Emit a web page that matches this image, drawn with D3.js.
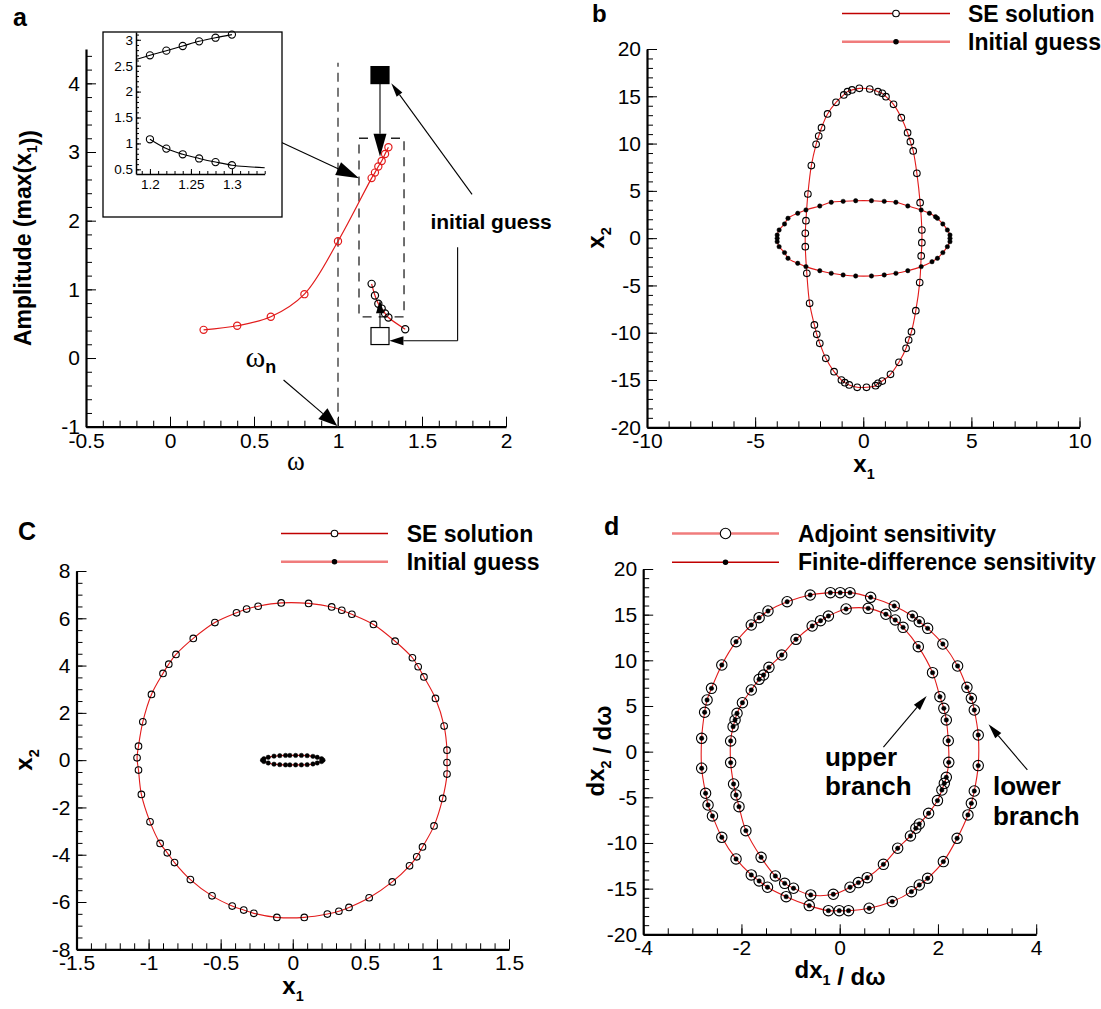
<!DOCTYPE html>
<html>
<head>
<meta charset="utf-8">
<script src="https://cdn.jsdelivr.net/npm/d3@7"></script>
<style>
    body { margin: 0; background: #fff; }
    svg { display: block; }
</style>
</head>
<body>
<div id="chart"></div>
<script>
// ---- panel a : amplitude vs frequency ----
var aOmega = [0.2, 0.4, 0.6, 0.8, 1.0, 1.2, 1.22, 1.24, 1.26, 1.28, 1.3];
var aUpperAmp = [0.41, 0.47, 0.60, 0.93, 1.70, 2.62, 2.70, 2.79, 2.87, 2.97, 3.07];
var aLowerOmega = [1.2, 1.22, 1.24, 1.26, 1.28, 1.3, 1.4];
var aLowerAmp = [1.08, 0.91, 0.79, 0.72, 0.65, 0.59, 0.42];
var aGuessOmega = [1.25, 1.25];
var aGuessAmp = [4.12, 0.32];      // filled square, open square

var insetOmega = [1.2, 1.22, 1.24, 1.26, 1.28, 1.3];
var insetUpperAmp = [2.70, 2.79, 2.88, 2.97, 3.04, 3.10];
var insetLowerAmp = [1.08, 0.90, 0.79, 0.71, 0.64, 0.58];
var insetUpperLead = [[1.183, 2.62]];
var insetLowerTail = [[1.32, 0.55], [1.34, 0.53]];

// ---- panel b ----
var bSolX1 = [-0.90,-0.73,-0.52,-0.18,0.30,0.68,0.88,1.05,1.40,1.76,2.05,2.18,2.31,2.48,2.63,2.71,2.71,2.68,2.61,2.43,2.23,2.10,1.98,1.65,1.26,0.88,0.68,0.57,0.15,-0.28,-0.65,-0.85,-1.01,-1.35,-1.73,-2.01,-2.15,-2.26,-2.48,-2.61,-2.68,-2.68,-2.65,-2.56,-2.40,-2.18,-2.06,-1.93,-1.65,-1.26];
var bSolX2 = [15.14,15.49,15.67,15.84,15.77,15.49,15.31,14.96,14.15,12.74,11.15,10.20,9.22,6.85,3.75,0.86,-0.48,-1.88,-4.70,-7.67,-9.89,-10.77,-11.65,-13.13,-14.40,-15.11,-15.35,-15.60,-15.77,-15.77,-15.52,-15.28,-15.00,-14.12,-12.71,-11.12,-10.17,-9.18,-6.89,-3.72,-0.90,0.51,1.85,4.67,7.67,9.92,10.80,11.68,13.13,14.36];
var bGuessX1 = [-0.35,0.38,0.97,1.51,2.06,2.68,3.06,3.34,3.43,3.68,3.89,4.01,4.01,4.01,3.89,3.68,3.43,3.18,2.68,2.06,1.51,0.97,0.38,-0.35,-0.93,-1.48,-2.01,-2.65,-3.03,-3.48,-3.64,-3.89,-3.98,-3.98,-3.98,-3.89,-3.64,-3.48,-3.03,-2.65,-2.01,-1.48,-0.93];
var bGuessX2 = [3.96,3.96,3.89,3.79,3.40,2.98,2.63,2.27,2.10,1.50,0.86,0.33,-0.02,-0.37,-0.90,-1.53,-2.13,-2.49,-3.01,-3.44,-3.72,-3.89,-4.00,-4.00,-3.89,-3.72,-3.44,-3.01,-2.66,-2.13,-1.53,-0.90,-0.37,-0.02,0.33,0.86,1.50,2.10,2.63,2.98,3.40,3.79,3.89];

// ---- panel c ----
var cSolX1 = [-0.08,0.11,0.27,0.34,0.41,0.56,0.71,0.83,0.87,0.91,0.99,1.05,1.07,1.07,1.07,1.04,0.98,0.90,0.86,0.81,0.69,0.53,0.39,0.32,0.24,0.08,-0.11,-0.27,-0.34,-0.42,-0.56,-0.71,-0.82,-0.87,-0.92,-0.99,-1.05,-1.07,-1.08,-1.07,-1.04,-0.98,-0.90,-0.86,-0.81,-0.69,-0.54,-0.39,-0.32,-0.24];
var cSolX2 = [6.65,6.63,6.48,6.34,6.17,5.74,5.03,4.33,3.95,3.52,2.61,1.44,0.42,-0.10,-0.59,-1.62,-2.78,-3.67,-4.09,-4.47,-5.15,-5.82,-6.23,-6.39,-6.51,-6.65,-6.65,-6.48,-6.34,-6.17,-5.74,-5.05,-4.33,-3.92,-3.52,-2.61,-1.45,-0.42,0.10,0.59,1.62,2.78,3.67,4.06,4.47,5.15,5.82,6.23,6.39,6.51];
var cGuessX1 = [-0.13,-0.09,-0.05,-0.02,0.02,0.06,0.10,0.14,0.17,0.20,0.21,0.20,0.17,0.14,0.10,0.06,0.02,-0.02,-0.05,-0.09,-0.13,-0.17,-0.20,-0.21,-0.20,-0.17];
var cGuessX2 = [0.17,0.19,0.20,0.20,0.20,0.20,0.19,0.16,0.12,0.06,0.00,-0.06,-0.12,-0.16,-0.19,-0.20,-0.20,-0.20,-0.20,-0.19,-0.17,-0.12,-0.06,0.00,0.06,0.12];

// ---- panel d ----
var dLowerX1 = [-0.19,0.01,0.21,0.63,1.11,1.48,1.62,1.79,2.10,2.40,2.59,2.68,2.74,2.82,2.82,2.74,2.68,2.61,2.39,2.11,1.79,1.62,1.46,1.07,0.60,0.18,-0.01,-0.23,-0.62,-1.09,-1.47,-1.64,-1.80,-2.11,-2.40,-2.59,-2.68,-2.73,-2.81,-2.81,-2.75,-2.70,-2.61,-2.40,-2.11,-1.80,-1.64,-1.46,-1.07,-0.60];
var dLowerX2 = [17.41,17.41,17.41,16.90,15.95,14.85,14.23,13.50,11.79,9.38,7.04,5.84,4.56,1.82,-1.53,-4.31,-5.66,-6.93,-9.49,-12.04,-13.87,-14.60,-15.33,-16.42,-17.15,-17.41,-17.41,-17.41,-16.86,-15.88,-14.85,-14.16,-13.50,-11.75,-9.38,-7.04,-5.84,-4.56,-1.82,1.46,4.31,5.66,6.93,9.49,12.04,13.87,14.67,15.40,16.42,17.15];
var dUpperX1 = [0.13,0.58,0.94,1.13,1.29,1.60,1.89,2.04,2.12,2.17,2.21,2.22,2.17,2.13,2.08,1.99,1.81,1.62,1.55,1.44,1.18,0.89,0.56,0.38,0.21,-0.13,-0.59,-0.94,-1.12,-1.31,-1.60,-1.91,-2.05,-2.11,-2.16,-2.22,-2.22,-2.17,-2.13,-2.09,-1.98,-1.80,-1.64,-1.55,-1.44,-1.18,-0.89,-0.56,-0.39,-0.23];
var dUpperX2 = [15.62,15.69,15.04,14.42,13.61,11.50,8.65,6.02,4.74,3.47,1.20,-1.17,-2.81,-3.47,-4.20,-5.36,-6.75,-7.92,-8.39,-9.23,-10.58,-12.34,-13.80,-14.34,-14.85,-15.62,-15.69,-14.96,-14.42,-13.61,-11.57,-8.65,-6.02,-4.74,-3.54,-1.20,1.17,2.74,3.47,4.20,5.36,6.75,7.92,8.39,9.23,10.58,12.30,13.76,14.34,14.85];

// tick labels
var aXTicks = [-0.5, 0, 0.5, 1, 1.5, 2];
var aYTicks = [-1, 0, 1, 2, 3, 4];
var insetXTicks = [1.2, 1.25, 1.3];
var insetYTicks = [0.5, 1, 1.5, 2, 2.5, 3];
var bXTicks = [-10, -5, 0, 5, 10];
var bYTicks = [-20, -15, -10, -5, 0, 5, 10, 15, 20];
var cXTicks = [-1.5, -1, -0.5, 0, 0.5, 1, 1.5];
var cYTicks = [-8, -6, -4, -2, 0, 2, 4, 6, 8];
var dXTicks = [-4, -2, 0, 2, 4];
var dYTicks = [-20, -15, -10, -5, 0, 5, 10, 15, 20];

var width = 1101;
var height = 1009;
var FONT = "'Liberation Sans', Arial, Helvetica, sans-serif";
var SERIF = "'Liberation Serif', 'Times New Roman', serif";
var RED = "#e21b1b";
var DARKRED = "#c00000";
var PINK = "#f07c7c";

var svg = d3.select("#chart").append("svg").attr("width", width).attr("height", height);

function zip(a, b) {
    return a.map(function (v, i) { return [v, b[i]]; });
}

function minor(lo, hi, step) {
    return d3.range(Math.round((hi - lo) / step) + 1).map(function (i) {
        return +(lo + i * step).toFixed(4);
    });
}

function makePanel(p) {
    var g = svg.append("g");
    var x = d3.scaleLinear().domain(p.xDomain).range(p.xRange);
    var y = d3.scaleLinear().domain(p.yDomain).range(p.yRange);
    var fmt = function (d) { return String(d); };
    var fs = p.fontSize || 21;
    var majorLen = p.majorLen || 10, minorLen = p.minorLen || 6;

    // minor ticks
    g.append("g").attr("transform", "translate(0," + p.yRange[0] + ")")
        .call(d3.axisBottom(x).tickValues(p.xMinor).tickSize(-minorLen).tickFormat(""))
        .call(function (s) { s.select(".domain").remove(); });
    g.append("g").attr("transform", "translate(" + p.xRange[0] + ",0)")
        .call(d3.axisLeft(y).tickValues(p.yMinor).tickSize(-minorLen).tickFormat(""))
        .call(function (s) { s.select(".domain").remove(); });

    // major ticks + labels
    var xa = g.append("g").attr("transform", "translate(0," + p.yRange[0] + ")")
        .call(d3.axisBottom(x).tickValues(p.xTicks).tickSize(-majorLen).tickSizeOuter(0)
            .tickPadding(p.padX || 6).tickFormat(fmt));
    var ya = g.append("g").attr("transform", "translate(" + p.xRange[0] + ",0)")
        .call(d3.axisLeft(y).tickValues(p.yTicks).tickSize(-majorLen).tickSizeOuter(0)
            .tickPadding(p.padY || 6).tickFormat(fmt));
    [xa, ya].forEach(function (a) {
        a.attr("font-family", FONT).attr("font-size", fs);
        a.select(".domain").attr("stroke-width", p.axisWidth || 2.2);
        a.selectAll(".tick line").attr("stroke-width", 1);
    });
    g.selectAll(".tick line").attr("stroke", "#000");
    return {g: g, x: x, y: y};
}

function arrow(g, x1, y1, x2, y2, len, hw, sw) {
    var dx = x2 - x1, dy = y2 - y1, L = Math.sqrt(dx * dx + dy * dy);
    var ux = dx / L, uy = dy / L;
    var bx = x2 - ux * len, by = y2 - uy * len;
    g.append("line").attr("x1", x1).attr("y1", y1).attr("x2", bx).attr("y2", by)
        .attr("stroke", "#000").attr("stroke-width", sw || 1.1);
    g.append("path")
        .attr("d", "M" + x2 + "," + y2 + "L" + (bx - uy * hw) + "," + (by + ux * hw) +
            "L" + (bx + uy * hw) + "," + (by - ux * hw) + "Z")
        .attr("fill", "#000");
}

function label(g, txt, x, y, size, weight, anchor, family) {
    return g.append("text").attr("x", x).attr("y", y)
        .attr("font-family", family || FONT).attr("font-size", size)
        .attr("font-weight", weight || "normal").attr("text-anchor", anchor || "start")
        .text(txt);
}

// subscript title like x1, dx2 / dω
function subTitle(g, parts, x, y, size, rotate) {
    var t = g.append("text").attr("font-family", FONT).attr("font-size", size)
        .attr("font-weight", "bold").attr("text-anchor", "middle");
    if (rotate) t.attr("transform", "translate(" + x + "," + y + ") rotate(-90)");
    else t.attr("transform", "translate(" + x + "," + y + ")");
    parts.forEach(function (pt) {
        if (pt.sub) {
            t.append("tspan").attr("font-size", size * 0.6).attr("dy", size * 0.28).text(pt.sub);
            t.append("tspan").attr("dy", -size * 0.28).text("");
        } else {
            t.append("tspan").text(pt.t);
        }
    });
    return t;
}

function closedLine(g, sc, pts, color, w) {
    g.append("path").datum(pts)
        .attr("d", d3.line().x(function (d) { return sc.x(d[0]); }).y(function (d) { return sc.y(d[1]); })
            .curve(d3.curveCatmullRomClosed.alpha(0.5)))
        .attr("fill", "none").attr("stroke", color).attr("stroke-width", w || 1.1);
}

function markers(g, sc, pts, r, fill, stroke, sw) {
    g.append("g").selectAll("circle").data(pts).enter().append("circle")
        .attr("cx", function (d) { return sc.x(d[0]); })
        .attr("cy", function (d) { return sc.y(d[1]); })
        .attr("r", r).attr("fill", fill).attr("stroke", stroke).attr("stroke-width", sw || 1);
}

function legend(g, rows, x0, x1, xm, xt, size) {
    rows.forEach(function (r) {
        g.append("line").attr("x1", x0).attr("x2", x1).attr("y1", r.y).attr("y2", r.y)
            .attr("stroke", r.color).attr("stroke-width", r.w);
        g.append("circle").attr("cx", xm).attr("cy", r.y).attr("r", r.r)
            .attr("fill", r.fill).attr("stroke", "#000").attr("stroke-width", 1.1);
        label(g, r.text, xt, r.y + 8, size, "bold");
    });
}

// =================== panel a ===================
var pa = makePanel({
    xDomain: [-0.5, 2], xRange: [86, 506],
    yDomain: [-1, 4.5], yRange: [426.7, 49],
    xTicks: aXTicks, yTicks: aYTicks,
    xMinor: minor(-0.5, 2, 0.1), yMinor: minor(-1, 4.4, 0.2)
});
label(pa.g, "a", 13, 26, 25, "bold");
subTitle(pa.g, [{t: "Amplitude (max(x"}, {sub: "1"}, {t: "))"}], 31, 238, 23, true);
label(pa.g, "ω", 296, 470, 27, "normal", "middle", SERIF);

// natural frequency line
pa.g.append("line").attr("x1", pa.x(1)).attr("x2", pa.x(1)).attr("y1", pa.y(-1)).attr("y2", pa.y(4.3))
    .attr("stroke", "#333").attr("stroke-width", 1.3).attr("stroke-dasharray", "9,6");

// dashed zoom box
pa.g.append("rect").attr("x", pa.x(1.125)).attr("y", pa.y(3.2))
    .attr("width", pa.x(1.393) - pa.x(1.125)).attr("height", pa.y(0.6) - pa.y(3.2))
    .attr("fill", "none").attr("stroke", "#222").attr("stroke-width", 1.3).attr("stroke-dasharray", "9,7");

var aLine = d3.line().x(function (d) { return pa.x(d[0]); }).y(function (d) { return pa.y(d[1]); })
    .curve(d3.curveCatmullRom);
var aUpper = zip(aOmega, aUpperAmp);
var aLower = zip(aLowerOmega, aLowerAmp);
pa.g.append("path").datum(aUpper).attr("d", aLine).attr("fill", "none").attr("stroke", RED).attr("stroke-width", 1.2);
pa.g.append("path").datum(aLower).attr("d", aLine).attr("fill", "none").attr("stroke", RED).attr("stroke-width", 1.2);
markers(pa.g, pa, aUpper, 3.6, "none", RED, 1.2);
markers(pa.g, pa, aLower, 3.6, "none", "#000", 1.2);

// initial guesses (squares)
var aGuess = zip(aGuessOmega, aGuessAmp);
pa.g.selectAll(".guess").data(aGuess).enter().append("rect")
    .attr("x", function (d) { return pa.x(d[0]) - 9; })
    .attr("y", function (d) { return pa.y(d[1]) - 8.5; })
    .attr("width", 18).attr("height", 17)
    .attr("fill", function (d, i) { return i === 0 ? "#000" : "#fff"; })
    .attr("stroke", "#000").attr("stroke-width", 1.2);

// annotation arrows (data coordinates)
function aArrow(f, t, len, hw) {
    arrow(pa.g, pa.x(f[0]), pa.y(f[1]), pa.x(t[0]), pa.y(t[1]), len, hw);
}
aArrow([1.25, 3.99], [1.25, 2.93], 23, 6.5);
aArrow([1.25, 0.44], [1.25, 0.84], 13, 4);
aArrow([0.623, 3.185], [1.125, 2.617], 23, 7);
aArrow([1.798, 2.384], [1.317, 4.0], 14, 3.5);
aArrow([0.676, -0.32], [0.996, -0.99], 19, 7);
pa.g.append("line").attr("x1", pa.x(1.712)).attr("x2", pa.x(1.712)).attr("y1", pa.y(1.613)).attr("y2", pa.y(0.252))
    .attr("stroke", "#000").attr("stroke-width", 1.1);
aArrow([1.712, 0.252], [1.306, 0.252], 14, 4.5);

label(pa.g, "initial guess", pa.x(1.55), pa.y(1.88), 21, "bold");
var wn = pa.g.append("text").attr("x", pa.x(0.45)).attr("y", pa.y(-0.13))
    .attr("font-family", SERIF).attr("font-size", 30).text("ω");
wn.append("tspan").attr("font-family", FONT).attr("font-weight", "bold").attr("font-size", 18).attr("dy", 6).text("n");

// inset
pa.g.append("rect").attr("x", 103).attr("y", 32).attr("width", 179).attr("height", 185)
    .attr("fill", "#fff").attr("stroke", "#000").attr("stroke-width", 1.3);
var pi = makePanel({
    xDomain: [1.183, 1.34], xRange: [136, 264.7],
    yDomain: [0.41, 3.15], yRange: [174, 32],
    xTicks: insetXTicks, yTicks: insetYTicks,
    xMinor: minor(1.19, 1.34, 0.01), yMinor: minor(0.5, 3.1, 0.1),
    fontSize: 13.5, majorLen: 5, minorLen: 3, padX: 5, padY: 3, axisWidth: 1.5
});
var iLine = d3.line().x(function (d) { return pi.x(d[0]); }).y(function (d) { return pi.y(d[1]); })
    .curve(d3.curveCatmullRom);
var iUpper = zip(insetOmega, insetUpperAmp);
var iLower = zip(insetOmega, insetLowerAmp);
pi.g.append("path").datum(insetUpperLead.concat(iUpper)).attr("d", iLine)
    .attr("fill", "none").attr("stroke", "#000").attr("stroke-width", 1.1);
pi.g.append("path").datum(iLower.concat(insetLowerTail)).attr("d", iLine)
    .attr("fill", "none").attr("stroke", "#000").attr("stroke-width", 1.1);
markers(pi.g, pi, iUpper, 3.6, "none", "#000", 1.1);
markers(pi.g, pi, iLower, 3.6, "none", "#000", 1.1);

// =================== panel b ===================
var pb = makePanel({
    xDomain: [-10, 10], xRange: [647, 1079.5],
    yDomain: [-20, 20], yRange: [427.3, 49],
    xTicks: bXTicks, yTicks: bYTicks,
    xMinor: minor(-10, 10, 1), yMinor: minor(-20, 20, 1)
});
label(pb.g, "b", 592, 22, 24, "bold");
subTitle(pb.g, [{t: "x"}, {sub: "2"}], 604, 238, 24, true);
subTitle(pb.g, [{t: "x"}, {sub: "1"}], 864, 472, 24, false);
var bSol = zip(bSolX1, bSolX2), bGuess = zip(bGuessX1, bGuessX2);
closedLine(pb.g, pb, bSol, RED);
closedLine(pb.g, pb, bGuess, RED);
markers(pb.g, pb, bSol, 3.3, "none", "#000", 1.1);
markers(pb.g, pb, bGuess, 2.2, "#000", "#000", 0.5);
legend(pb.g, [
    {y: 13.5, color: DARKRED, w: 1.4, r: 3.3, fill: "#fff", text: "SE solution"},
    {y: 41.7, color: PINK, w: 2.6, r: 2.2, fill: "#000", text: "Initial guess"}
], 842, 950, 896, 968, 23);

// =================== panel c ===================
var pc = makePanel({
    xDomain: [-1.5, 1.5], xRange: [76.5, 509],
    yDomain: [-8, 8], yRange: [949.3, 571],
    xTicks: cXTicks, yTicks: cYTicks,
    xMinor: minor(-1.5, 1.5, 0.1), yMinor: minor(-8, 8, 0.5)
});
label(pc.g, "C", 18, 540, 25, "bold");
subTitle(pc.g, [{t: "x"}, {sub: "2"}], 32, 760, 24, true);
subTitle(pc.g, [{t: "x"}, {sub: "1"}], 293, 994, 24, false);
var cSol = zip(cSolX1, cSolX2), cGuess = zip(cGuessX1, cGuessX2);
closedLine(pc.g, pc, cSol, RED);
closedLine(pc.g, pc, cGuess, RED);
markers(pc.g, pc, cSol, 3.3, "none", "#000", 1.1);
markers(pc.g, pc, cGuess, 2.2, "#000", "#000", 0.5);
legend(pc.g, [
    {y: 533.5, color: DARKRED, w: 1.4, r: 3.3, fill: "#fff", text: "SE solution"},
    {y: 561.7, color: PINK, w: 2.6, r: 2.2, fill: "#000", text: "Initial guess"}
], 281, 388, 334.5, 406.7, 23);

// =================== panel d ===================
var pd = makePanel({
    xDomain: [-4, 4], xRange: [643.2, 1036.2],
    yDomain: [-20, 20], yRange: [934.3, 569],
    xTicks: dXTicks, yTicks: dYTicks,
    xMinor: minor(-4, 4, 0.5), yMinor: minor(-20, 20, 1)
});
label(pd.g, "d", 604, 535, 25, "bold");
subTitle(pd.g, [{t: "dx"}, {sub: "2"}, {t: " / dω"}], 604, 751, 24, true);
subTitle(pd.g, [{t: "dx"}, {sub: "1"}, {t: " / dω"}], 840, 978, 24, false);
var dLower = zip(dLowerX1, dLowerX2), dUpper = zip(dUpperX1, dUpperX2);
closedLine(pd.g, pd, dLower, RED);
closedLine(pd.g, pd, dUpper, RED);
markers(pd.g, pd, dLower, 5.2, "none", "#000", 1.1);
markers(pd.g, pd, dUpper, 5.2, "none", "#000", 1.1);
markers(pd.g, pd, dLower, 2.2, "#000", "#000", 0.5);
markers(pd.g, pd, dUpper, 2.2, "#000", "#000", 0.5);
legend(pd.g, [
    {y: 533.5, color: PINK, w: 2.6, r: 5.2, fill: "#fff", text: "Adjoint sensitivity"},
    {y: 562.3, color: DARKRED, w: 1.4, r: 2.2, fill: "#000", text: "Finite-difference sensitivity"}
], 672, 779, 725.5, 798, 23);

label(pd.g, "upper", pd.x(-0.3), pd.y(-1.6), 26, "bold");
label(pd.g, "branch", pd.x(-0.3), pd.y(-4.8), 26, "bold");
label(pd.g, "lower", pd.x(3.12), pd.y(-4.8), 26, "bold");
label(pd.g, "branch", pd.x(3.12), pd.y(-8.0), 26, "bold");
arrow(pd.g, pd.x(0.89), pd.y(0.5), pd.x(1.77), pd.y(6.1), 15, 4);
arrow(pd.g, pd.x(3.82), pd.y(-2.0), pd.x(3.03), pd.y(3.0), 15, 4);
</script>
</body>
</html>
